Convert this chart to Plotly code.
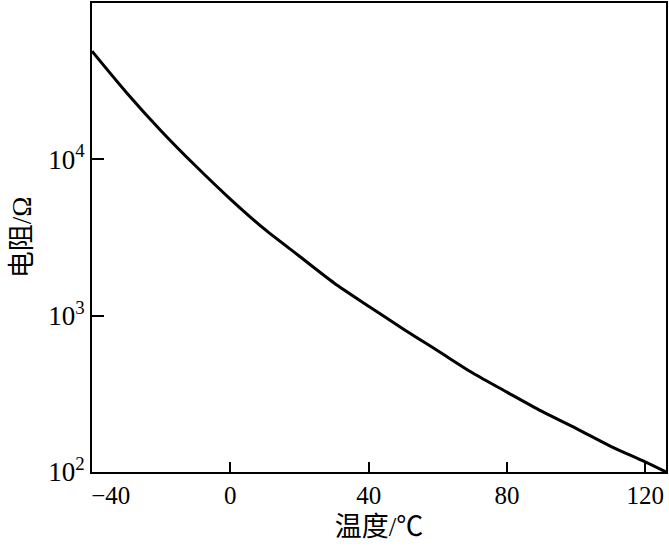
import plotly.graph_objects as go

# Temperature (°C) and resistance (Ω)
temperature = [-40, -30, -20, -10, 0, 10, 20, 30, 40, 50, 60, 70, 80, 90, 100, 110, 120, 126]
resistance = [49200, 26700, 15200, 9060, 5570, 3560, 2400, 1620, 1150, 822, 596, 431, 324, 245, 190, 146, 116, 100]

x_ticks = [-40, 0, 40, 80, 120]
x_ticktext = ["\u00a0" * 6 + "\u221240", "0", "40", "80", "120"]
y_ticks = [100, 1000, 10000]
y_ticktext = ["10<sup>2</sup>", "10<sup>3</sup>", "10<sup>4</sup>"]

serif = "Liberation Serif"
cjk = "Liberation Serif, Noto Sans CJK SC"

fig = go.Figure()
fig.add_trace(go.Scatter(
    x=temperature, y=resistance, mode="lines",
    line=dict(color="black", width=3, shape="spline", smoothing=0.8),
    hoverinfo="skip", showlegend=False,
))

fig.update_layout(
    width=669, height=547,
    margin=dict(l=92, r=1, t=1, b=75),
    paper_bgcolor="white", plot_bgcolor="white",
    font=dict(family=serif, color="black", size=24),
    xaxis=dict(
        range=[-40, 126], tickvals=x_ticks, ticktext=x_ticktext,
        ticks="inside", ticklen=10, tickwidth=1.5, tickcolor="black",
        showline=True, linecolor="black", linewidth=2, mirror=True,
        showgrid=False, zeroline=False,
        title=dict(text="温度/℃", font=dict(size=27, family=cjk, color="black"), standoff=9),
        tickfont=dict(size=25, family=serif, color="black"),
    ),
    yaxis=dict(
        type="log", range=[2, 5], tickvals=y_ticks, ticktext=y_ticktext,
        ticks="inside", ticklen=12, tickwidth=1.5, tickcolor="black",
        showline=True, linecolor="black", linewidth=2, mirror=True,
        showgrid=False, zeroline=False,
        title=dict(text="电阻/Ω", font=dict(size=27, family=cjk, color="black"), standoff=9),
        tickfont=dict(size=27, family=serif, color="black"),
    ),
)

fig.write_html("out.html", config={"displayModeBar": False},
               post_script="document.body.style.margin='0';")
